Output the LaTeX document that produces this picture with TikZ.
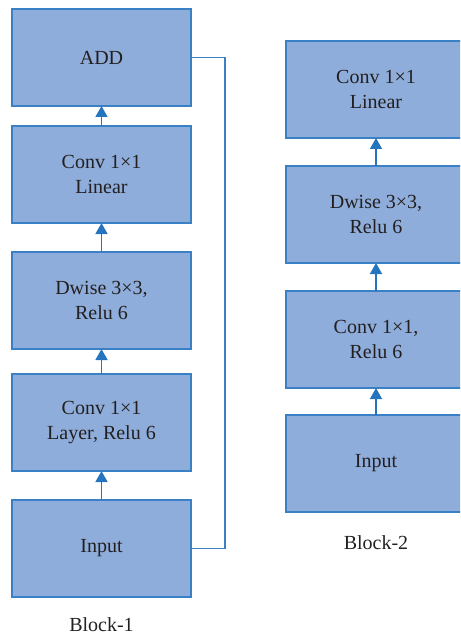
\documentclass[tikz,border=0pt]{standalone}
\usepackage{fontspec}
\setmainfont{Liberation Serif}
\usetikzlibrary{arrows.meta}
\definecolor{boxfill}{HTML}{8FADDA}
\definecolor{boxline}{HTML}{3A80C4}
\definecolor{arrowc}{HTML}{2475BE}
\definecolor{txt}{HTML}{231F20}
\tikzset{
  blk/.style={rectangle, draw=boxline, fill=boxfill, line width=1.2pt,
    minimum width=179pt, minimum height=97pt, inner sep=0pt, outer sep=0pt,
    align=center, text=txt, font=\fontsize{20}{25}\selectfont},
  flow/.style={draw=arrowc, line width=1.4pt, -{Triangle[width=12pt,length=11pt]}},
  skipline/.style={draw=boxline, line width=1.4pt},
  blocklabel/.style={text=txt, font=\fontsize{20}{25}\selectfont, inner sep=0pt}
}
\begin{document}
\begin{tikzpicture}[x=1pt,y=-1pt]
\useasboundingbox (0,0) rectangle (460,639);
\clip (0,0) rectangle (460,639);
% Block-1
\node[blk] (add) at (101.5,57.5) {ADD};
\node[blk] (lin1) at (101.5,174.5) {Conv 1×1\\Linear};
\node[blk] (dw1) at (101.5,300.5) {Dwise 3×3,\\Relu 6};
\node[blk] (cl1) at (101.5,422.5) {Conv 1×1\\Layer, Relu 6};
\node[blk] (in1) at (101.5,548.5) {Input};
\node[blocklabel] (b1) at (101.5,625) {Block-1};
\draw[flow] (in1) -- (cl1);
\draw[flow] (cl1) -- (dw1);
\draw[flow] (dw1) -- (lin1);
\draw[flow] (lin1) -- (add);
\coordinate (skip) at (225,300);
\draw[skipline] (add.east) -| (skip) |- (in1.east);
% Block-2
\node[blk, minimum width=180pt] (lin2) at (376,89.5) {Conv 1×1\\Linear};
\node[blk, minimum width=180pt] (dw2) at (376,214.5) {Dwise 3×3,\\Relu 6};
\node[blk, minimum width=180pt] (cr2) at (376,339.5) {Conv 1×1,\\Relu 6};
\node[blk, minimum width=180pt] (in2) at (376,463.5) {Input};
\node[blocklabel] (b2) at (376,543) {Block-2};
\draw[flow] (in2) -- (cr2);
\draw[flow] (cr2) -- (dw2);
\draw[flow] (dw2) -- (lin2);
\end{tikzpicture}
\end{document}
